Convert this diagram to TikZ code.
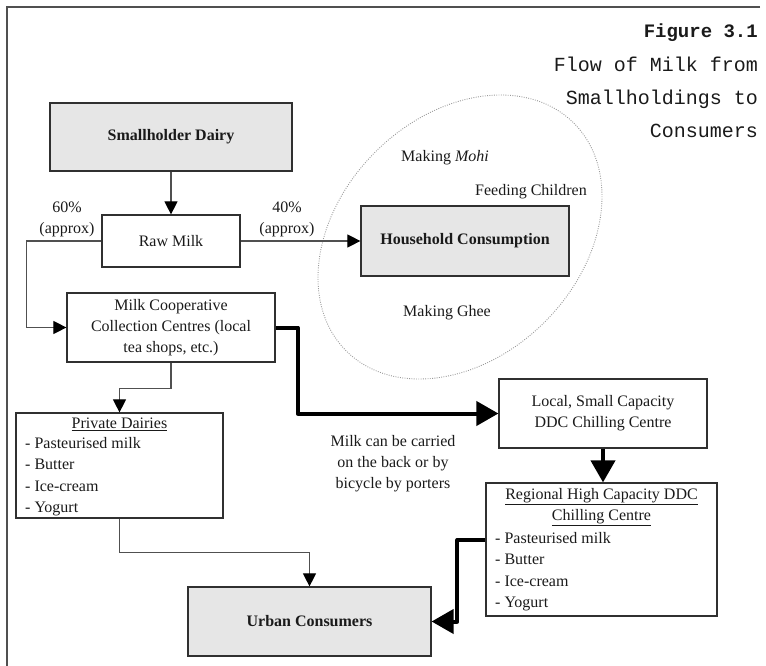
\documentclass[tikz,border=0pt]{standalone}
\usepackage{fontspec}
\setmainfont{Liberation Serif}
\newfontfamily\titlefont{Liberation Mono}
\usetikzlibrary{arrows.meta,calc}
\definecolor{boxc}{HTML}{303030}
\definecolor{linec}{HTML}{505050}
\definecolor{fillc}{HTML}{E6E6E6}
\definecolor{txt}{HTML}{1A1A1A}
\tikzset{
  box/.style={draw=boxc, line width=1.2pt, inner sep=0pt, align=center, text=txt,
    font=\fontsize{16}{21}\selectfont},
  gbox/.style={box, fill=fillc, font=\fontsize{16}{21}\selectfont\bfseries},
  lbl/.style={inner sep=0pt, align=center, text=txt, font=\fontsize{16}{21}\selectfont},
  lst/.style={inner sep=0pt, align=left, text=txt, font=\fontsize{16}{21.5}\selectfont},
  thin/.style={draw=linec, line width=1.1pt, -{Triangle[length=13pt,width=13pt,color=black,fill=black]}},
  thick/.style={draw=black, line width=4pt, -{Triangle[length=22pt,width=24pt]}, line join=round},
  ttl/.style={inner sep=0pt, anchor=base east, text=txt, font=\titlefont\fontsize{20}{24}\selectfont}
}
\begin{document}
\begin{tikzpicture}[x=1pt,y=-1pt]
\useasboundingbox (0,0) rectangle (766,666);
% frame
\draw[line width=2pt, linec] (760,7) -- (7,7) -- (7,666);
% title
\node[ttl, font=\titlefont\fontsize{19}{24}\selectfont\bfseries] (t1) at (758,38) {Figure 3.1};
\node[ttl] (t2) at (758,72) {Flow of Milk from};
\node[ttl] (t3) at (758,105) {Smallholdings to};
\node[ttl] (t4) at (758,138) {Consumers};
% ellipse
\draw[gray!80, line width=0.9pt, dash pattern=on 0.9pt off 1.4pt, rotate around={45:(460,237)}]
  (460,237) ellipse [x radius=161, y radius=120];
% boxes
\node[gbox, minimum width=242pt, minimum height=68pt] (sd) at (171,137) {Smallholder Dairy};
\node[box, minimum width=138pt, minimum height=52pt] (raw) at (171,241) {Raw Milk};
\node[gbox, minimum width=208pt, minimum height=70pt] (hh) at (465,241) {Household Consumption};
\node[box, minimum width=208pt, minimum height=69pt] (coop) at (171,327.5)
  {Milk Cooperative\\Collection Centres (local\\tea shops, etc.)};
\node[box, minimum width=207pt, minimum height=105pt] (pd) at (119.5,465.5) {};
\node[lbl] (pdt) at (119.5,424) {\underline{Private Dairies}};
\node[lst, anchor=west] (pdl) at (25,476.5) {- Pasteurised milk\\- Butter\\- Ice-cream\\- Yogurt};
\node[box, minimum width=208pt, minimum height=69pt] (loc) at (603,413.5)
  {Local, Small Capacity\\DDC Chilling Centre};
\node[box, minimum width=231pt, minimum height=133pt] (reg) at (601.5,549.5) {};
\node[lbl] (regt) at (601.5,507.5) {\underline{Regional High Capacity DDC}\\\underline{Chilling Centre}};
\node[lst, anchor=west] (regl) at (495,571.5) {- Pasteurised milk\\- Butter\\- Ice-cream\\- Yogurt};
\node[gbox, minimum width=243pt, minimum height=69pt] (urb) at (309.5,621.5) {Urban Consumers};
% labels
\node[lbl] (p60) at (67,219.5) {60\%\\(approx)};
\node[lbl] (p40) at (287,219.5) {40\%\\(approx)};
\node[lbl] (mohi) at (445,158) {Making \textit{Mohi}};
\node[lbl] (feed) at (531,192) {Feeding Children};
\node[lbl] (ghee) at (447,313) {Making Ghee};
\node[lbl] (carry) at (393,464) {Milk can be carried\\on the back or by\\bicycle by porters};
% thin connectors
\draw[thin] (sd.south) -- (raw.north);
\draw[thin] (raw.east) -- (hh.west);
\draw[thin] (raw.west) -- ++(-75,0) |- (coop.west);
\draw[thin] (coop.south) -- ++(0,26) -| (pd.north);
\draw[thin] (pd.south) -- ++(0,34) -| (urb.north);
% thick connectors
\coordinate (c1) at ($(coop.east)+(22,0)$);
\draw[thick] (coop.east) -- (c1) |- (loc.west);
\draw[thick] (loc.south) -- (loc.south |- reg.north);
\coordinate (c2) at ($(reg.west)+(0,-9.5)$);
\draw[thick] (c2) -- ++(-28,0) |- (urb.east);
\end{tikzpicture}
\end{document}
